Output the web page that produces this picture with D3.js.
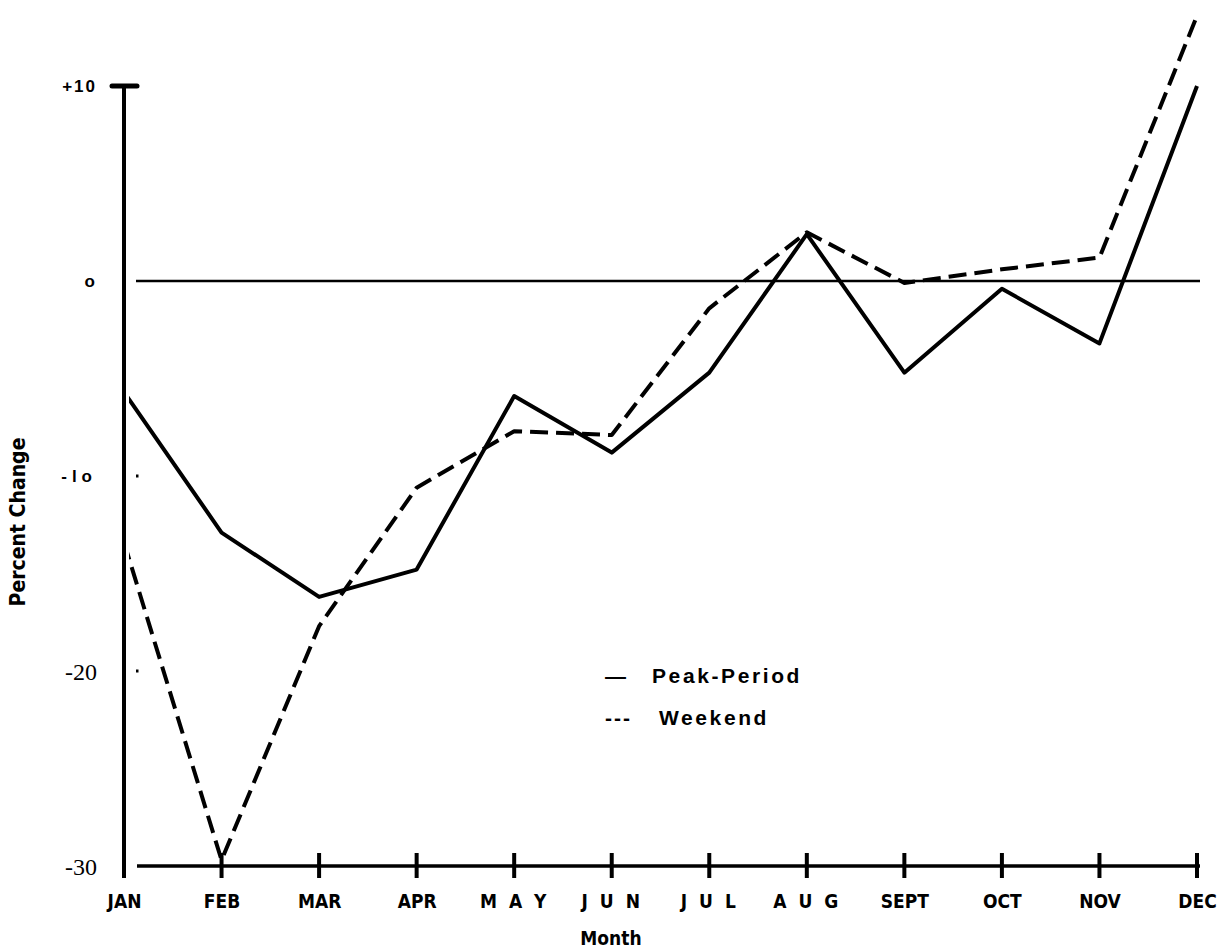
<!DOCTYPE html>
<html>
<head>
<meta charset="utf-8">
<script src="https://cdn.jsdelivr.net/npm/d3@7"></script>
<style>
  html, body { margin: 0; padding: 0; background: #fff; }
  svg { display: block; }
</style>
</head>
<body>
<svg id="chart" width="1218" height="952"></svg>
<script>
// ---- data ----
const months = ["JAN","FEB","MAR","APR","MAY","JUN","JUL","AUG","SEPT","OCT","NOV","DEC"];
const monthLabels = ["JAN","FEB","MAR","APR","M A Y","J U N","J U L","A U G","SEPT","OCT","NOV","DEC"];
const peakPeriod = [-5.7, -12.9, -16.2, -14.8, -5.9, -8.8, -4.7, 2.4, -4.7, -0.4, -3.2, 10.0];
const weekend    = [-13.4, -29.7, -17.7, -10.6, -7.7, -7.9, -1.4, 2.5, -0.1, 0.6, 1.2, 13.6];
const yTickValues = [10, 0, -10, -20, -30];
const yTickLabels = ["+10", "o", "-lo", "-20", "-30"];
const legendLabels = ["Peak-Period", "Weekend"];
const legendSymbols = ["\u2014", "---"];

// ---- layout ----
const svg = d3.select("#chart");
const x = d3.scalePoint().domain(months).range([124, 1197]);
const y = d3.scaleLinear().domain([-30, 10]).range([866, 86]);

const sans = "'Liberation Sans', Arial, sans-serif";
const narrow = "'Liberation Sans Narrow', 'Arial Narrow', 'DejaVu Sans Condensed', 'Liberation Sans', sans-serif";
const serif = "'Liberation Serif', 'Times New Roman', serif";

// zero line
svg.append("line")
  .attr("x1", 136).attr("x2", 1200)
  .attr("y1", y(0)).attr("y2", y(0))
  .attr("stroke", "#000").attr("stroke-width", 2.5);

// bottom baseline
svg.append("line")
  .attr("x1", 137).attr("x2", 1200)
  .attr("y1", y(-30)).attr("y2", y(-30))
  .attr("stroke", "#000").attr("stroke-width", 3.5);

// vertical y axis line
svg.append("line")
  .attr("x1", 124).attr("x2", 124)
  .attr("y1", y(10)).attr("y2", y(-30) + 12)
  .attr("stroke", "#000").attr("stroke-width", 4);

// top cap at +10
svg.append("line")
  .attr("x1", 112).attr("x2", 137)
  .attr("y1", y(10)).attr("y2", y(10))
  .attr("stroke", "#000").attr("stroke-width", 5)
  .attr("stroke-linecap", "round");

// tiny marks at -10, -20
svg.selectAll("rect.ymark")
  .data([-10, -20])
  .join("rect")
  .attr("class", "ymark")
  .attr("x", 136).attr("y", d => y(d) - 1.5)
  .attr("width", 2.5).attr("height", 3)
  .attr("fill", "#000");

// x tick marks
svg.selectAll("line.xtick")
  .data(months.slice(1))
  .join("line")
  .attr("class", "xtick")
  .attr("x1", d => x(d)).attr("x2", d => x(d))
  .attr("y1", y(-30) - 13).attr("y2", y(-30) + 12)
  .attr("stroke", "#000").attr("stroke-width", 4);

// x axis labels
const xAxis = d3.axisBottom(x).tickSize(0).tickFormat((d, i) => monthLabels[i]);
const gx = svg.append("g").attr("transform", `translate(0, ${y(-30) + 23})`).call(xAxis);
gx.select(".domain").remove();
gx.selectAll("text")
  .attr("dy", "0.85em")
  .style("font-family", narrow)
  .style("font-weight", "bold")
  .style("font-size", "19px")
  .style("letter-spacing", (d, i) => monthLabels[i].includes(" ") ? "3px" : "0px")
  .attr("fill", "#000");

// y axis labels
const yAxis = d3.axisLeft(y).tickValues(yTickValues).tickSize(0).tickFormat((d, i) => yTickLabels[i]);
const gy = svg.append("g").attr("transform", "translate(97, 0)").call(yAxis);
gy.select(".domain").remove();
gy.selectAll("text")
  .attr("x", 0)
  .attr("fill", "#000")
  .each(function(d) {
    const t = d3.select(this);
    if (d <= -20) {
      t.style("font-family", serif).style("font-size", "24px").style("font-weight", "normal")
       .attr("dy", "0.35em");
    } else {
      t.style("font-family", sans).style("font-size", "17px").style("font-weight", "bold")
       .style("letter-spacing", d === -10 ? "5px" : "2px")
       .attr("dy", "0.35em");
    }
  });

// axis titles
svg.append("text")
  .attr("transform", "translate(25, 522) rotate(-90)")
  .attr("text-anchor", "middle")
  .style("font-family", narrow).style("font-weight", "bold").style("font-size", "21px")
  .text("Percent Change");

svg.append("text")
  .attr("x", 611).attr("y", 945)
  .attr("text-anchor", "middle")
  .style("font-family", narrow).style("font-weight", "bold").style("font-size", "19px")
  .text("Month");

// data lines
svg.append("clipPath").attr("id", "plotclip")
  .append("rect").attr("x", 129).attr("y", 0).attr("width", 1089).attr("height", 952);

const line = d3.line().x((d, i) => x(months[i])).y(d => y(d));

const plot = svg.append("g").attr("clip-path", "url(#plotclip)");
plot.append("path")
  .datum(peakPeriod)
  .attr("d", line)
  .attr("fill", "none")
  .attr("stroke", "#000").attr("stroke-width", 4)
  .attr("stroke-linejoin", "round");

plot.append("path")
  .datum(weekend)
  .attr("d", line)
  .attr("fill", "none")
  .attr("stroke", "#000").attr("stroke-width", 4)
  .attr("stroke-dasharray", "18,8")
  .attr("stroke-linejoin", "round");

// legend
const legend = svg.append("g");
legendLabels.forEach((lab, i) => {
  const yy = 683 + i * 42;
  legend.append("text")
    .attr("x", 605).attr("y", yy)
    .style("font-family", sans).style("font-weight", "bold").style("font-size", "21px")
    .style("letter-spacing", i === 1 ? "2px" : "0px")
    .text(legendSymbols[i]);
  legend.append("text")
    .attr("x", i === 0 ? 652 : 659).attr("y", yy)
    .style("font-family", sans).style("font-weight", "bold").style("font-size", "21px")
    .style("letter-spacing", "2.6px")
    .text(lab);
});
</script>
</body>
</html>
